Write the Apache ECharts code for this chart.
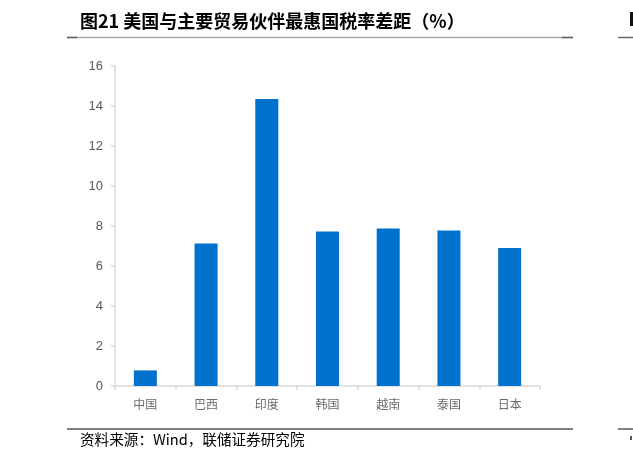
<!DOCTYPE html>
<html>
<head>
<meta charset="utf-8">
<script src="https://cdn.jsdelivr.net/npm/echarts@6/dist/echarts.min.js"></script>
<style>
html,body{margin:0;padding:0;background:#fff;}
#c{width:633px;height:459px;}
</style>
</head>
<body>
<div id="c"></div>
<script>
const categories = ['中国', '巴西', '印度', '韩国', '越南', '泰国', '日本'];
const values = [0.78, 7.13, 14.35, 7.72, 7.87, 7.78, 6.9];
const yTicks = [0, 2, 4, 6, 8, 10, 12, 14, 16];
const titleText = '图21 美国与主要贸易伙伴最惠国税率差距（%）';
const sourceText = '资料来源：Wind，联储证券研究院';

const chart = echarts.init(document.getElementById('c'), null, {renderer: 'canvas'});
const CJK = '"Noto Sans CJK SC", "Liberation Sans", sans-serif';
const option = {
  backgroundColor: '#ffffff',
  animation: false,
  grid: {left: 115, right: 93, top: 66, bottom: 73, containLabel: false},
  xAxis: {
    type: 'category',
    data: categories,
    axisLine: {show: true, lineStyle: {color: '#d9d9d9', width: 1.5}},
    axisTick: {show: true, length: 4, lineStyle: {color: '#d9d9d9', width: 1.5}},
    axisLabel: {color: '#6b6b6b', fontSize: 12, margin: 12, fontFamily: CJK}
  },
  yAxis: {
    type: 'value',
    min: yTicks[0],
    max: yTicks[yTicks.length - 1],
    interval: 2,
    splitLine: {show: false},
    axisLine: {show: true, lineStyle: {color: '#d9d9d9', width: 1.5}},
    axisTick: {show: true, length: 4, lineStyle: {color: '#d9d9d9', width: 1.5}},
    axisLabel: {color: '#595959', fontSize: 13, margin: 12, fontFamily: '"Liberation Sans", Arial, sans-serif'}
  },
  series: [{
    type: 'bar',
    data: values,
    barWidth: 23,
    itemStyle: {color: '#0072CE'}
  }],
  graphic: [
    {type: 'text', left: 80, top: 12, style: {text: titleText, fill: '#000', font: 'bold 18px ' + CJK}},
    {type: 'line', shape: {x1: 67, y1: 37.5, x2: 573, y2: 37.5}, style: {stroke: '#a6a6a6', lineWidth: 1.5}},
    {type: 'line', shape: {x1: 67, y1: 37.5, x2: 77, y2: 37.5}, style: {stroke: '#666', lineWidth: 1.5}},
    {type: 'line', shape: {x1: 562, y1: 37.5, x2: 573, y2: 37.5}, style: {stroke: '#666', lineWidth: 1.5}},
    {type: 'line', shape: {x1: 618, y1: 37.5, x2: 633, y2: 37.5}, style: {stroke: '#666', lineWidth: 1.5}},
    {type: 'rect', shape: {x: 630, y: 12, width: 3, height: 14}, style: {fill: '#111'}},
    {type: 'line', shape: {x1: 67, y1: 429, x2: 573, y2: 429}, style: {stroke: '#808080', lineWidth: 2}},
    {type: 'line', shape: {x1: 618, y1: 429, x2: 633, y2: 429}, style: {stroke: '#808080', lineWidth: 2}},
    {type: 'text', left: 80, top: 432, style: {text: sourceText, fill: '#000', font: '14.6px ' + CJK}},
    {type: 'rect', shape: {x: 630, y: 436, width: 2, height: 4}, style: {fill: '#555'}}
  ]
};
chart.setOption(option);
</script>
</body>
</html>
